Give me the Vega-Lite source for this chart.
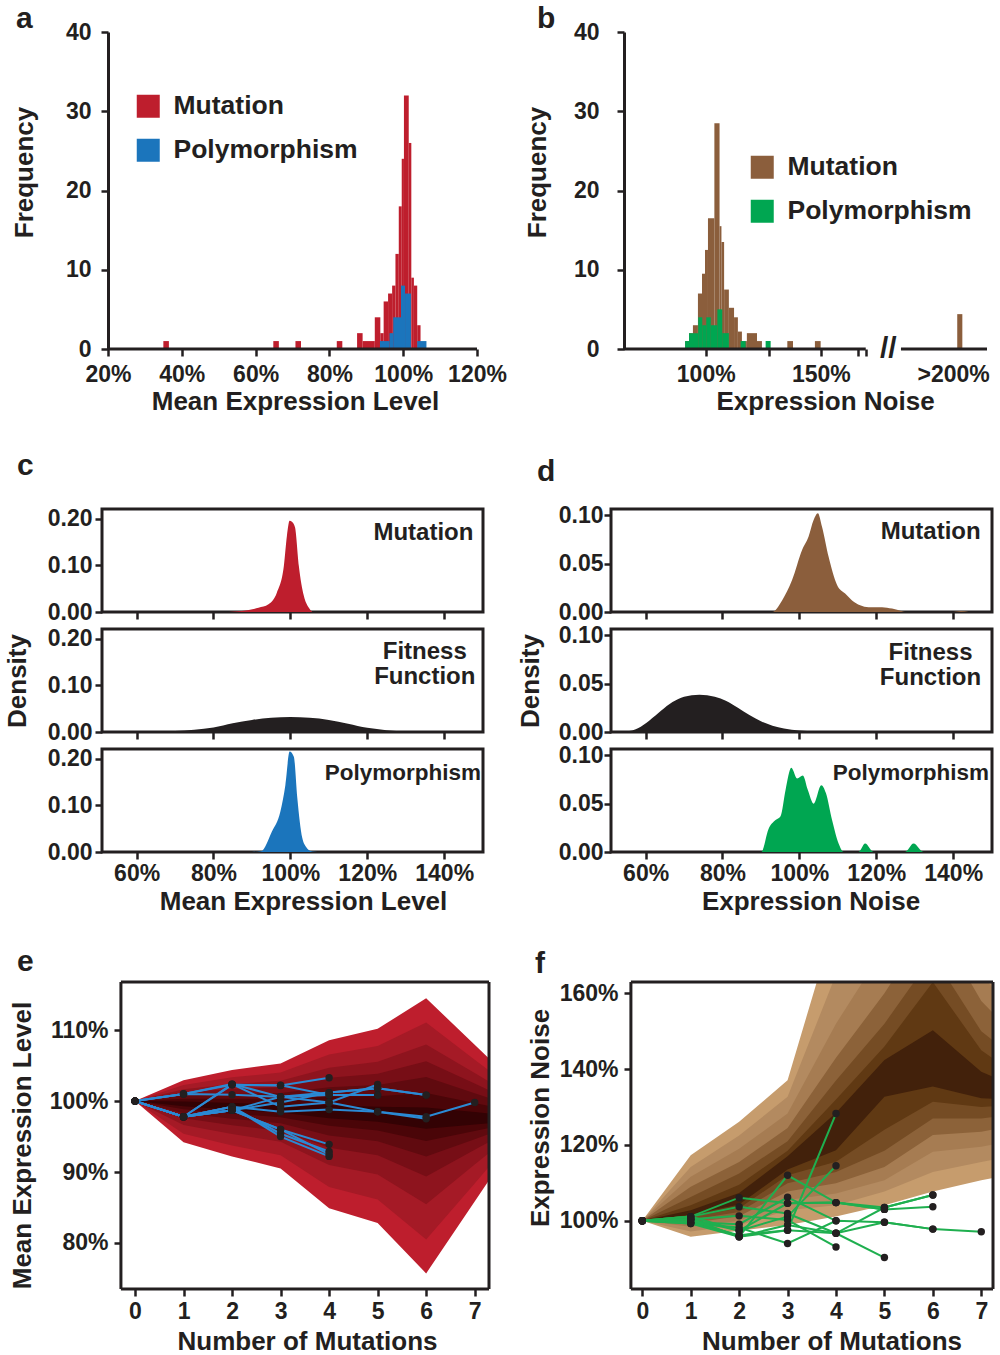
{
"$schema": "https://vega.github.io/schema/vega-lite/v6.json",
"background": "white",
"padding": {"left": 2, "top": 4, "right": 5, "bottom": 5},
"config": {
  "font": "Liberation Sans",
  "axis": {"labelFont": "Liberation Sans", "labelFontSize": 23, "labelFontWeight": "bold", "labelColor": "#231f20", "titleFont": "Liberation Sans", "titleFontSize": 26, "titleFontWeight": "bold", "titleColor": "#231f20", "domainColor": "#231f20", "domainWidth": 3, "tickColor": "#231f20", "tickWidth": 2.5, "tickSize": 7, "grid": false, "labelFlush": false, "labelOverlap": false},
  "title": {"font": "Liberation Sans", "fontSize": 30, "fontWeight": "bold", "color": "#231f20", "anchor": "start", "frame": "group", "baseline": "alphabetic"},
  "legend": {"labelFont": "Liberation Sans", "labelFontSize": 26.5, "labelFontWeight": "bold", "labelColor": "#231f20", "labelLimit": 400, "symbolType": "square", "symbolSize": 529, "symbolStrokeWidth": 0, "symbolOpacity": 1, "labelOffset": 12, "rowPadding": 17},
  "text": {"font": "Liberation Sans", "fontWeight": "bold", "color": "#231f20"},
  "rule": {"color": "#231f20", "strokeWidth": 3}
},
"columns": 2,
"bounds": "flush",
"spacing": {"row": 17, "column": 122},
"resolve": {"scale": {"color": "independent"}, "legend": {"color": "independent"}},
"concat": [
  {"title": {"text": "a", "dx": -86, "offset": -13},
   "width": 375, "height": 317, "view": {"stroke": null},
   "layer": [
    {"data": {"values": [
     {"t":"Mutation","x0":35.0,"x1":36.5,"n":1},
     {"t":"Mutation","x0":64.8,"x1":66.3,"n":1},
     {"t":"Mutation","x0":70.8,"x1":72.3,"n":1},
     {"t":"Mutation","x0":82.0,"x1":83.5,"n":1},
     {"t":"Mutation","x0":87.5,"x1":89.0,"n":2},
     {"t":"Mutation","x0":89.0,"x1":92.3,"n":1},
     {"t":"Mutation","x0":92.3,"x1":93.8,"n":4},
     {"t":"Mutation","x0":93.8,"x1":94.7,"n":2},
     {"t":"Mutation","x0":94.7,"x1":95.9,"n":6},
     {"t":"Mutation","x0":95.9,"x1":97.0,"n":7},
     {"t":"Mutation","x0":97.0,"x1":97.9,"n":8},
     {"t":"Mutation","x0":97.9,"x1":98.8,"n":12},
     {"t":"Mutation","x0":98.8,"x1":99.6,"n":18},
     {"t":"Mutation","x0":99.6,"x1":100.2,"n":24},
     {"t":"Mutation","x0":100.2,"x1":101.5,"n":32},
     {"t":"Mutation","x0":101.5,"x1":102.2,"n":26},
     {"t":"Mutation","x0":102.2,"x1":102.9,"n":9},
     {"t":"Mutation","x0":102.9,"x1":103.8,"n":8},
     {"t":"Mutation","x0":103.8,"x1":104.7,"n":3},
     {"t":"Polymorphism","x0":93.7,"x1":96.3,"n":1},
     {"t":"Polymorphism","x0":96.3,"x1":97.3,"n":2},
     {"t":"Polymorphism","x0":97.3,"x1":99.4,"n":4},
     {"t":"Polymorphism","x0":99.4,"x1":100.5,"n":8},
     {"t":"Polymorphism","x0":100.5,"x1":102.1,"n":7},
     {"t":"Polymorphism","x0":103.8,"x1":106.3,"n":1}
    ]},
    "mark": {"type": "rect"},
    "encoding": {
     "x": {"field": "x0", "type": "quantitative", "scale": {"domain": [18.374, 120], "nice": false}, "axis": {"domain": false, "values": [20,40,60,80,100,120], "labelExpr": "datum.value + '%'", "title": "Mean Expression Level", "labelPadding": 7, "titlePadding": 2, "titleX": 193}},
     "x2": {"field": "x1"},
     "y": {"field": "n", "type": "quantitative", "scale": {"domain": [0, 40], "nice": false}, "axis": {"offset": -6, "values": [0,10,20,30,40], "title": "Frequency", "labelPadding": 10, "titlePadding": 28, "titleY": 140}},
     "y2": {"datum": 0},
     "color": {"field": "t", "type": "nominal", "scale": {"domain": ["Mutation","Polymorphism"], "range": ["#BE1E2D","#1B75BC"]}, "legend": {"orient": "none", "legendX": 33, "legendY": 61, "title": null}}
    }},
    {"data": {"values": [{}]}, "mark": {"type": "rule"}, "encoding": {"x": {"datum": 20}, "x2": {"datum": 120}, "y": {"datum": 0}}}
   ]
  },
  {"title": {"text": "b", "dx": -74, "offset": -13},
   "width": 376, "height": 317, "view": {"stroke": null},
   "layer": [
    {"data": {"values": [
      {"t":"Mutation","x0":93.0,"x1":94.3,"n":1},
      {"t":"Mutation","x0":94.3,"x1":95.6,"n":2},
      {"t":"Mutation","x0":95.6,"x1":97.3,"n":3},
      {"t":"Mutation","x0":97.3,"x1":98.7,"n":7},
      {"t":"Mutation","x0":98.7,"x1":99.75,"n":9.5},
      {"t":"Mutation","x0":99.75,"x1":100.8,"n":12.5},
      {"t":"Mutation","x0":100.8,"x1":103.1,"n":16.5},
      {"t":"Mutation","x0":103.1,"x1":105.0,"n":28.5},
      {"t":"Mutation","x0":105.0,"x1":105.7,"n":15.5},
      {"t":"Mutation","x0":105.7,"x1":106.7,"n":13.5},
      {"t":"Mutation","x0":106.7,"x1":108.5,"n":7.5},
      {"t":"Mutation","x0":108.5,"x1":110.5,"n":5.2},
      {"t":"Mutation","x0":110.5,"x1":112.0,"n":4},
      {"t":"Mutation","x0":112.0,"x1":113.6,"n":2.2},
      {"t":"Mutation","x0":113.6,"x1":115.6,"n":1},
      {"t":"Mutation","x0":115.6,"x1":119.8,"n":2},
      {"t":"Mutation","x0":119.8,"x1":121.9,"n":1},
      {"t":"Mutation","x0":133.3,"x1":136.0,"n":1},
      {"t":"Mutation","x0":146.9,"x1":149.9,"n":1},
      {"t":"Mutation","x0":242.5,"x1":246.9,"n":4.4},
      {"t":"Polymorphism","x0":93.0,"x1":94.3,"n":1},
      {"t":"Polymorphism","x0":94.3,"x1":97.4,"n":2},
      {"t":"Polymorphism","x0":97.4,"x1":98.8,"n":4},
      {"t":"Polymorphism","x0":98.8,"x1":100.2,"n":3},
      {"t":"Polymorphism","x0":100.2,"x1":101.8,"n":4},
      {"t":"Polymorphism","x0":101.8,"x1":104.2,"n":3},
      {"t":"Polymorphism","x0":104.2,"x1":106.0,"n":5},
      {"t":"Polymorphism","x0":106.0,"x1":108.5,"n":2},
      {"t":"Polymorphism","x0":113.1,"x1":115.1,"n":1},
      {"t":"Polymorphism","x0":123.5,"x1":125.7,"n":1}
     ]},
     "mark": {"type": "rect"},
     "encoding": {
      "x": {"field": "x0", "type": "quantitative", "scale": {"type": "log", "domain": [71.64, 269.3], "nice": false}, "axis": {"domain": false, "values": [100,125,150,170.7,175.7,239], "labelExpr": "datum.value == 100 ? '100%' : datum.value == 150 ? '150%' : datum.value == 239 ? '>200%' : ''", "tickOpacity": {"condition": {"test": "datum.value == 239", "value": 0}, "value": 1}, "title": "Expression Noise", "titleX": 214, "labelPadding": 7, "titlePadding": 2}},
      "x2": {"field": "x1"},
      "y": {"field": "n", "type": "quantitative", "scale": {"domain": [0, 40], "nice": false}, "axis": {"offset": -13, "values": [0,10,20,30,40], "title": "Frequency", "labelPadding": 18, "titlePadding": 23, "titleY": 140}},
      "y2": {"datum": 0},
      "color": {"field": "t", "type": "nominal", "scale": {"domain": ["Mutation","Polymorphism"], "range": ["#8B5E3C","#00A651"]}, "legend": {"orient": "none", "legendX": 138, "legendY": 122, "title": null}}
     }
    },
    {"data": {"values": [{}]}, "mark": {"type": "rule"}, "encoding": {"x": {"datum": 75}, "x2": {"datum": 175.7}, "y": {"datum": 0}}},
    {"data": {"values": [{}]}, "mark": {"type": "rule"}, "encoding": {"x": {"datum": 198.9}, "x2": {"datum": 269.3}, "y": {"datum": 0}}},
    {"data": {"values": [{}]}, "mark": {"type": "text", "text": "//", "fontSize": 30, "baseline": "middle", "align": "center"}, "encoding": {"x": {"datum": 190.2}, "y": {"datum": 0}}}
   ]
  },

  {"width": 1, "height": 126, "view": {"stroke": null}, "data": {"values": [{}]}, "mark": {"type": "text", "text": ""}, "encoding": {}},
  {"width": 1, "height": 126, "view": {"stroke": null}, "data": {"values": [{}]}, "mark": {"type": "text", "text": ""}, "encoding": {}},

  {"title": {"text": "c", "dx": -85, "offset": 27},
   "width": 381, "height": 103, "view": {"stroke": "#231f20", "strokeWidth": 3},
   "layer": [
    {"data": {"values": [{"x":84,"y":0},{"x":87.3,"y":0.002},{"x":91.7,"y":0.009},{"x":94.3,"y":0.0165},{"x":96.5,"y":0.042},{"x":98.3,"y":0.099},{"x":99.1,"y":0.164},{"x":99.8,"y":0.196},{"x":100.4,"y":0.194},{"x":101.2,"y":0.182},{"x":102.2,"y":0.099},{"x":103.5,"y":0.035},{"x":104.8,"y":0.009},{"x":105.7,"y":0}]},
     "mark": {"type": "area", "color": "#BE1E2D", "interpolate": "monotone"},
     "encoding": {
      "x": {"field": "x", "type": "quantitative", "scale": {"domain": [51, 150.1], "nice": false}, "axis": {"values": [60,80,100,120,140], "domain": false, "labels": false, "title": null}},
      "y": {"field": "y", "type": "quantitative", "scale": {"domain": [0, 0.2215], "nice": false}, "axis": {"values": [0,0.1,0.2], "format": ".2f", "domain": false, "title": null, "labelPadding": 3}}
     }},
    {"data": {"values": [{}]}, "mark": {"type": "text", "text": "Mutation", "align": "right", "fontSize": 24}, "encoding": {"x": {"datum": 147.6}, "y": {"datum": 0.170}}}
   ]},
  {"title": {"text": "d", "dx": -74, "offset": 17},
   "width": 381, "height": 103, "view": {"stroke": "#231f20", "strokeWidth": 3},
   "layer": [
    {"data": {"values": [{"x":90,"y":0},{"x":92.9,"y":0},{"x":95.5,"y":0.012},{"x":98.1,"y":0.033},{"x":100.7,"y":0.064},{"x":102.4,"y":0.078},{"x":103.7,"y":0.095},{"x":104.8,"y":0.102},{"x":105.9,"y":0.088},{"x":107.6,"y":0.057},{"x":109.8,"y":0.028},{"x":111.9,"y":0.019},{"x":113.7,"y":0.012},{"x":115.8,"y":0.007},{"x":118,"y":0.005},{"x":121.5,"y":0.005},{"x":124.1,"y":0.0035},{"x":126.7,"y":0.0007},{"x":127.5,"y":0},{"x":140,"y":0},{"x":142,"y":0.001},{"x":144,"y":0}]},
     "mark": {"type": "area", "color": "#8B5E3C", "interpolate": "monotone"},
     "encoding": {
      "x": {"field": "x", "type": "quantitative", "scale": {"domain": [51, 150.1], "nice": false}, "axis": {"values": [60,80,100,120,140], "domain": false, "labels": false, "title": null}},
      "y": {"field": "y", "type": "quantitative", "scale": {"domain": [0, 0.1065], "nice": false}, "axis": {"values": [0,0.05,0.1], "format": ".2f", "domain": false, "title": null, "labelPadding": 1}}
     }},
    {"data": {"values": [{}]}, "mark": {"type": "text", "text": "Mutation", "align": "right", "fontSize": 24}, "encoding": {"x": {"datum": 147.15}, "y": {"datum": 0.0824}}}
   ]},

  {"width": 381, "height": 103, "view": {"stroke": "#231f20", "strokeWidth": 3},
   "layer": [
    {"data": {"values": [{"x":55,"y":0.0001},{"x":60,"y":0.0003},{"x":65,"y":0.0009},{"x":70,"y":0.0022},{"x":75,"y":0.005},{"x":80,"y":0.0098},{"x":85,"y":0.019},{"x":90,"y":0.026},{"x":95,"y":0.0305},{"x":100,"y":0.032},{"x":105,"y":0.0305},{"x":110,"y":0.026},{"x":115,"y":0.018},{"x":120,"y":0.009},{"x":125,"y":0.004},{"x":130,"y":0.0015},{"x":135,"y":0.0005},{"x":140,"y":0.0001}]},
     "mark": {"type": "area", "color": "#231F20", "interpolate": "monotone"},
     "encoding": {
      "x": {"field": "x", "type": "quantitative", "scale": {"domain": [51, 150.1], "nice": false}, "axis": {"values": [60,80,100,120,140], "domain": false, "labels": false, "title": null}},
      "y": {"field": "y", "type": "quantitative", "scale": {"domain": [0, 0.2215], "nice": false}, "axis": {"values": [0,0.1,0.2], "format": ".2f", "domain": false, "title": "Density", "labelPadding": 3, "titlePadding": 17}}
     }},
    {"data": {"values": [{}]}, "mark": {"type": "text", "text": "Fitness\nFunction", "lineBreak": "\n", "lineHeight": 25, "align": "center", "fontSize": 24}, "encoding": {"x": {"datum": 134.96}, "y": {"datum": 0.171}}}
   ]},
  {"width": 381, "height": 103, "view": {"stroke": "#231f20", "strokeWidth": 3},
   "layer": [
    {"data": {"values": [{"x":52,"y":0},{"x":55,"y":0.0006},{"x":58,"y":0.004},{"x":61,"y":0.012},{"x":64,"y":0.022},{"x":67,"y":0.031},{"x":70,"y":0.0365},{"x":74,"y":0.0386},{"x":78,"y":0.0365},{"x":81,"y":0.032},{"x":84,"y":0.025},{"x":87,"y":0.0175},{"x":90,"y":0.011},{"x":93,"y":0.0065},{"x":96,"y":0.0035},{"x":100,"y":0.0015},{"x":104,"y":0.0005},{"x":108,"y":0}]},
     "mark": {"type": "area", "color": "#231F20", "interpolate": "monotone"},
     "encoding": {
      "x": {"field": "x", "type": "quantitative", "scale": {"domain": [51, 150.1], "nice": false}, "axis": {"values": [60,80,100,120,140], "domain": false, "labels": false, "title": null}},
      "y": {"field": "y", "type": "quantitative", "scale": {"domain": [0, 0.1065], "nice": false}, "axis": {"values": [0,0.05,0.1], "format": ".2f", "domain": false, "title": "Density", "labelPadding": 1, "titlePadding": 15}}
     }},
    {"data": {"values": [{}]}, "mark": {"type": "text", "text": "Fitness\nFunction", "lineBreak": "\n", "lineHeight": 25, "align": "center", "fontSize": 24}, "encoding": {"x": {"datum": 134.1}, "y": {"datum": 0.0818}}}
   ]},

  {"width": 381, "height": 103, "view": {"stroke": "#231f20", "strokeWidth": 3},
   "layer": [
    {"data": {"values": [{"x":90,"y":0},{"x":92.4,"y":0.0014},{"x":95.2,"y":0.044},{"x":97.4,"y":0.087},{"x":98.7,"y":0.144},{"x":99.8,"y":0.216},{"x":100.9,"y":0.205},{"x":101.8,"y":0.116},{"x":103.1,"y":0.03},{"x":104.0,"y":0.012},{"x":105.7,"y":0.001},{"x":107,"y":0}]},
     "mark": {"type": "area", "color": "#1B75BC", "interpolate": "monotone"},
     "encoding": {
      "x": {"field": "x", "type": "quantitative", "scale": {"domain": [51, 150.1], "nice": false}, "axis": {"values": [60,80,100,120,140], "domain": false, "labelExpr": "datum.value + '%'", "title": "Mean Expression Level", "labelPadding": 3, "titlePadding": 3, "titleX": 201}},
      "y": {"field": "y", "type": "quantitative", "scale": {"domain": [0, 0.2215], "nice": false}, "axis": {"values": [0,0.1,0.2], "format": ".2f", "domain": false, "title": null, "labelPadding": 3}}
     }},
    {"data": {"values": [{}]}, "mark": {"type": "text", "text": "Polymorphism", "align": "right", "fontSize": 22.5}, "encoding": {"x": {"datum": 149.6}, "y": {"datum": 0.169}}}
   ]},
  {"width": 381, "height": 103, "view": {"stroke": "#231f20", "strokeWidth": 3},
   "layer": [
    {"data": {"values": [{"x":88,"y":0},{"x":90.1,"y":0},{"x":92.0,"y":0.024},{"x":93.8,"y":0.033},{"x":95.1,"y":0.037},{"x":96.4,"y":0.064},{"x":97.9,"y":0.087},{"x":99.4,"y":0.076},{"x":100.9,"y":0.079},{"x":102.2,"y":0.064},{"x":103.7,"y":0.05},{"x":105.7,"y":0.069},{"x":106.9,"y":0.061},{"x":108.5,"y":0.033},{"x":110.2,"y":0.0087},{"x":111.5,"y":0},{"x":115.4,"y":0},{"x":117.1,"y":0.0087},{"x":119.3,"y":0},{"x":127.5,"y":0},{"x":129.7,"y":0.0087},{"x":132.3,"y":0},{"x":140,"y":0}]},
     "mark": {"type": "area", "color": "#00A651", "interpolate": "monotone"},
     "encoding": {
      "x": {"field": "x", "type": "quantitative", "scale": {"domain": [51, 150.1], "nice": false}, "axis": {"values": [60,80,100,120,140], "domain": false, "labelExpr": "datum.value + '%'", "title": "Expression Noise", "labelPadding": 3, "titlePadding": 3, "titleX": 199.5}},
      "y": {"field": "y", "type": "quantitative", "scale": {"domain": [0, 0.1065], "nice": false}, "axis": {"values": [0,0.05,0.1], "format": ".2f", "domain": false, "title": null, "labelPadding": 1}}
     }},
    {"data": {"values": [{}]}, "mark": {"type": "text", "text": "Polymorphism", "align": "right", "fontSize": 22.5}, "encoding": {"x": {"datum": 149.3}, "y": {"datum": 0.082}}}
   ]},

  {"width": 1, "height": 96, "view": {"stroke": null}, "data": {"values": [{}]}, "mark": {"type": "text", "text": ""}, "encoding": {}},
  {"width": 1, "height": 96, "view": {"stroke": null}, "data": {"values": [{}]}, "mark": {"type": "text", "text": ""}, "encoding": {}},

  {"title": {"text": "e", "dx": -85, "offset": 4},
   "width": 387, "height": 307, "view": {"stroke": null},
   "layer": [
    {"data": {"values": [
      {"s":0,"k":1,"v":100,"v2":100},{"s":1,"k":1,"v":94.2,"v2":102.96},{"s":2,"k":1,"v":92.2,"v2":104.4},{"s":3,"k":1,"v":90.5,"v2":105.3},{"s":4,"k":1,"v":84.9,"v2":108.6},{"s":5,"k":1,"v":82.8,"v2":110.2},{"s":6,"k":1,"v":75.7,"v2":114.5},{"s":7,"k":1,"v":85.85,"v2":107.96},{"s":8,"k":1,"v":96.0,"v2":101.4},
      {"s":0,"k":2,"v":100,"v2":100},{"s":1,"k":2,"v":95.39,"v2":102.29},{"s":2,"k":2,"v":93.74,"v2":103.36},{"s":3,"k":2,"v":92.35,"v2":104.02},{"s":4,"k":2,"v":87.87,"v2":106.56},{"s":5,"k":2,"v":86.14,"v2":107.76},{"s":6,"k":2,"v":80.47,"v2":111.08},{"s":7,"k":2,"v":88.39,"v2":105.85},{"s":8,"k":2,"v":96.31,"v2":100.6},
      {"s":0,"k":3,"v":100,"v2":100},{"s":1,"k":3,"v":96.63,"v2":101.68},{"s":2,"k":3,"v":95.35,"v2":102.42},{"s":3,"k":3,"v":94.28,"v2":102.87},{"s":4,"k":3,"v":90.98,"v2":104.72},{"s":5,"k":3,"v":89.64,"v2":105.56},{"s":6,"k":3,"v":85.47,"v2":108.0},{"s":7,"k":3,"v":91.05,"v2":103.95},{"s":8,"k":3,"v":96.63,"v2":99.88},
      {"s":0,"k":4,"v":100,"v2":100},{"s":1,"k":4,"v":97.6,"v2":101.21},{"s":2,"k":4,"v":96.61,"v2":101.7},{"s":3,"k":4,"v":95.79,"v2":101.97},{"s":4,"k":4,"v":93.41,"v2":103.3},{"s":5,"k":4,"v":92.38,"v2":103.86},{"s":6,"k":4,"v":89.37,"v2":105.61},{"s":7,"k":4,"v":93.13,"v2":102.47},{"s":8,"k":4,"v":96.88,"v2":99.32},
      {"s":0,"k":5,"v":100,"v2":100},{"s":1,"k":5,"v":98.3,"v2":100.78},{"s":2,"k":5,"v":97.52,"v2":101.02},{"s":3,"k":5,"v":96.88,"v2":101.14},{"s":4,"k":5,"v":95.16,"v2":101.97},{"s":5,"k":5,"v":94.35,"v2":102.27},{"s":6,"k":5,"v":92.19,"v2":103.39},{"s":7,"k":5,"v":94.63,"v2":101.1},{"s":8,"k":5,"v":97.06,"v2":98.8},
      {"s":0,"k":6,"v":100,"v2":100},{"s":1,"k":6,"v":98.84,"v2":100.34},{"s":2,"k":6,"v":98.22,"v2":100.34},{"s":3,"k":6,"v":97.72,"v2":100.31},{"s":4,"k":6,"v":96.51,"v2":100.64},{"s":5,"k":6,"v":95.87,"v2":100.68},{"s":6,"k":6,"v":94.36,"v2":101.16},{"s":7,"k":6,"v":95.78,"v2":99.72},{"s":8,"k":6,"v":97.2,"v2":98.28},
      {"s":0,"k":7,"v":100,"v2":100},{"s":1,"k":7,"v":99.28,"v2":99.94},{"s":2,"k":7,"v":98.78,"v2":99.72},{"s":3,"k":7,"v":98.4,"v2":99.54},{"s":4,"k":7,"v":97.59,"v2":99.42},{"s":5,"k":7,"v":97.09,"v2":99.22},{"s":6,"k":7,"v":96.1,"v2":99.11},{"s":7,"k":7,"v":96.71,"v2":98.46},{"s":8,"k":7,"v":97.32,"v2":97.8}
     ]},
     "mark": {"type": "area", "clip": true},
     "encoding": {
      "x": {"field": "s", "type": "quantitative", "scale": {"domain": [-0.68, 7.295], "nice": false}, "axis": {"values": [0,1,2,3,4,5,6,7], "domain": false, "title": "Number of Mutations", "labelPadding": 4, "titlePadding": 5, "titleX": 205}},
      "y": {"field": "v", "type": "quantitative", "scale": {"domain": [73.5, 116.8], "nice": false}, "axis": {"offset": -19, "values": [80,90,100,110], "labelExpr": "datum.value + '%'", "domain": false, "title": "Mean Expression Level", "labelPadding": 6, "titlePadding": 14, "titleY": 163}},
      "y2": {"field": "v2"},
      "color": {"field": "k", "type": "ordinal", "scale": {"domain": [1,2,3,4,5,6,7], "range": ["#BE1E2D","#A51A26","#8E141E","#770E16","#600A0F","#4A0508","#330204"]}, "legend": null}
     }},
    {"data": {"name": "elines", "values": [
      {"p":1,"s":0,"v":100},{"p":1,"s":1,"v":101.0},{"p":1,"s":2,"v":102.3},{"p":1,"s":3,"v":102.2},{"p":1,"s":4,"v":103.3},
      {"p":2,"s":0,"v":100},{"p":2,"s":1,"v":101.0},{"p":2,"s":2,"v":100.9},{"p":2,"s":3,"v":100.6},{"p":2,"s":4,"v":101.2},{"p":2,"s":5,"v":101.8},{"p":2,"s":6,"v":100.85},
      {"p":3,"s":0,"v":100},{"p":3,"s":1,"v":97.8},{"p":3,"s":2,"v":102.4},{"p":3,"s":3,"v":99.2},{"p":3,"s":4,"v":99.8},{"p":3,"s":5,"v":102.35},
      {"p":4,"s":0,"v":100},{"p":4,"s":1,"v":97.8},{"p":4,"s":2,"v":99.2},{"p":4,"s":3,"v":98.5},{"p":4,"s":4,"v":98.8},{"p":4,"s":5,"v":98.5},{"p":4,"s":6,"v":97.8},{"p":4,"s":7,"v":99.8},
      {"p":5,"s":0,"v":100},{"p":5,"s":1,"v":97.8},{"p":5,"s":2,"v":98.7},{"p":5,"s":3,"v":96.0},{"p":5,"s":4,"v":93.9},
      {"p":6,"s":0,"v":100},{"p":6,"s":1,"v":97.8},{"p":6,"s":2,"v":99.2},{"p":6,"s":3,"v":95.4},{"p":6,"s":4,"v":92.9},
      {"p":7,"s":0,"v":100},{"p":7,"s":1,"v":97.8},{"p":7,"s":2,"v":98.7},{"p":7,"s":3,"v":100.6},{"p":7,"s":4,"v":100.85},{"p":7,"s":5,"v":100.85},
      {"p":8,"s":0,"v":100},{"p":8,"s":1,"v":97.8},{"p":8,"s":2,"v":99.2},{"p":8,"s":3,"v":95.0},{"p":8,"s":4,"v":92.2},
      {"p":9,"s":0,"v":100},{"p":9,"s":1,"v":97.8},{"p":9,"s":2,"v":98.7},{"p":9,"s":3,"v":99.8},{"p":9,"s":4,"v":101.2},{"p":9,"s":5,"v":101.8},{"p":9,"s":6,"v":100.85},
      {"p":10,"s":0,"v":100},{"p":10,"s":1,"v":97.8},{"p":10,"s":2,"v":102.3},{"p":10,"s":3,"v":102.25},{"p":10,"s":4,"v":100.85},{"p":10,"s":5,"v":100.85},
      {"p":11,"s":0,"v":100},{"p":11,"s":1,"v":97.8},{"p":11,"s":2,"v":98.7},{"p":11,"s":3,"v":96.0},{"p":11,"s":4,"v":92.5},
      {"p":12,"s":0,"v":100},{"p":12,"s":1,"v":101.0},{"p":12,"s":2,"v":102.4},{"p":12,"s":3,"v":100.6},{"p":12,"s":4,"v":99.8},{"p":12,"s":5,"v":98.5},{"p":12,"s":6,"v":97.5}
     ]},
     "mark": {"type": "line", "color": "#2B8AD4", "strokeWidth": 2, "clip": true},
     "encoding": {"x": {"field": "s", "type": "quantitative"}, "y": {"field": "v", "type": "quantitative"}, "detail": {"field": "p"}}},
    {"data": {"name": "elines"},
     "mark": {"type": "circle", "color": "#231F20", "size": 55, "opacity": 1, "clip": true},
     "encoding": {"x": {"field": "s", "type": "quantitative"}, "y": {"field": "v", "type": "quantitative"}}},
    {"data": {"values": [{}]}, "mark": {"type": "rule"}, "encoding": {"x": {"datum": -0.29}, "y": {"datum": 73.5}, "y2": {"datum": 116.8}}},
    {"data": {"values": [{}]}, "mark": {"type": "rule"}, "encoding": {"x": {"datum": 7.295}, "y": {"datum": 73.5}, "y2": {"datum": 116.8}}},
    {"data": {"values": [{}]}, "mark": {"type": "rule"}, "encoding": {"x": {"datum": -0.29}, "x2": {"datum": 7.295}, "y": {"datum": 116.8}}},
    {"data": {"values": [{}]}, "mark": {"type": "rule"}, "encoding": {"x": {"datum": -0.29}, "x2": {"datum": 7.295}, "y": {"datum": 73.5}}}
   ]
  },
  {"title": {"text": "f", "dx": -76, "offset": 2},
   "width": 382, "height": 307, "view": {"stroke": null},
   "layer": [
    {"data": {"values": [
      {"s":0,"k":1,"v":100,"v2":100},{"s":1,"k":1,"v":95.8,"v2":117.3},{"s":2,"k":1,"v":97.4,"v2":126.1},{"s":3,"k":1,"v":98.9,"v2":137.1},{"s":4,"k":1,"v":101.1,"v2":180},{"s":5,"k":1,"v":104.1,"v2":200},{"s":6,"k":1,"v":107.7,"v2":215},{"s":7,"k":1,"v":110.7,"v2":185},{"s":8,"k":1,"v":113,"v2":170},
      {"s":0,"k":2,"v":100,"v2":100},{"s":1,"k":2,"v":97.2,"v2":114.2},{"s":2,"k":2,"v":98.8,"v2":122.5},{"s":3,"k":2,"v":102.8,"v2":132.7},{"s":4,"k":2,"v":104.1,"v2":165},{"s":5,"k":2,"v":107.7,"v2":185},{"s":6,"k":2,"v":112.9,"v2":200},{"s":7,"k":2,"v":115.5,"v2":175},{"s":8,"k":2,"v":118,"v2":160},
      {"s":0,"k":3,"v":100,"v2":100},{"s":1,"k":3,"v":98.4,"v2":111.6},{"s":2,"k":3,"v":100.0,"v2":119.0},{"s":3,"k":3,"v":105.5,"v2":128.3},{"s":4,"k":3,"v":107.2,"v2":152},{"s":5,"k":3,"v":110.7,"v2":172},{"s":6,"k":3,"v":118.2,"v2":190},{"s":7,"k":3,"v":119.5,"v2":165},{"s":8,"k":3,"v":122,"v2":150},
      {"s":0,"k":4,"v":100,"v2":100},{"s":1,"k":4,"v":99.4,"v2":109.0},{"s":2,"k":4,"v":101.2,"v2":115.5},{"s":3,"k":4,"v":107.7,"v2":124.5},{"s":4,"k":4,"v":109.9,"v2":143},{"s":5,"k":4,"v":114.2,"v2":160},{"s":6,"k":4,"v":122.6,"v2":180},{"s":7,"k":4,"v":123.5,"v2":158},{"s":8,"k":4,"v":126,"v2":145},
      {"s":0,"k":5,"v":100,"v2":100},{"s":1,"k":5,"v":100.3,"v2":106.3},{"s":2,"k":5,"v":102.3,"v2":112.5},{"s":3,"k":5,"v":109.9,"v2":121.0},{"s":4,"k":5,"v":112.9,"v2":137},{"s":5,"k":5,"v":118.5,"v2":152},{"s":6,"k":5,"v":127.0,"v2":170},{"s":7,"k":5,"v":127.0,"v2":150},{"s":8,"k":5,"v":128.5,"v2":140},
      {"s":0,"k":6,"v":100,"v2":100},{"s":1,"k":6,"v":101.0,"v2":104.1},{"s":2,"k":6,"v":103.3,"v2":109.5},{"s":3,"k":6,"v":112.0,"v2":118.5},{"s":4,"k":6,"v":115.6,"v2":132},{"s":5,"k":6,"v":124.0,"v2":146},{"s":6,"k":6,"v":131.4,"v2":163},{"s":7,"k":6,"v":130.0,"v2":145},{"s":8,"k":6,"v":131,"v2":136},
      {"s":0,"k":7,"v":100,"v2":100},{"s":1,"k":7,"v":101.6,"v2":102.8},{"s":2,"k":7,"v":104.3,"v2":107.3},{"s":3,"k":7,"v":113.5,"v2":117.0},{"s":4,"k":7,"v":118.6,"v2":128.5},{"s":5,"k":7,"v":132.7,"v2":142.4},{"s":6,"k":7,"v":135.4,"v2":150.3},{"s":7,"k":7,"v":132.3,"v2":139.3},{"s":8,"k":7,"v":132,"v2":134}
     ]},
     "mark": {"type": "area", "clip": true},
     "encoding": {
      "x": {"field": "s", "type": "quantitative", "scale": {"domain": [-0.646, 7.242], "nice": false}, "axis": {"values": [0,1,2,3,4,5,6,7], "domain": false, "title": "Number of Mutations", "labelPadding": 4, "titlePadding": 5, "titleX": 220.5}},
      "y": {"field": "v", "type": "quantitative", "scale": {"domain": [82, 163], "nice": false}, "axis": {"offset": -20, "values": [100,120,140,160], "labelExpr": "datum.value + '%'", "domain": false, "title": "Expression Noise", "labelPadding": 6, "titlePadding": 6, "titleY": 135.5}},
      "y2": {"field": "v2"},
      "color": {"field": "k", "type": "ordinal", "scale": {"domain": [1,2,3,4,5,6,7], "range": ["#C69C6D","#B38A60","#A67C52","#8C6239","#754C24","#603913","#42210B"]}, "legend": null}
     }},
    {"data": {"name": "flines", "values": [
      {"p":1,"s":0,"v":100},{"p":1,"s":1,"v":101.1},{"p":1,"s":2,"v":106.1},{"p":1,"s":3,"v":104.6},{"p":1,"s":4,"v":104.8},{"p":1,"s":5,"v":103.5},{"p":1,"s":6,"v":106.8},
      {"p":2,"s":0,"v":100},{"p":2,"s":1,"v":100.4},{"p":2,"s":2,"v":95.8},{"p":2,"s":3,"v":112.0},{"p":2,"s":4,"v":104.8},{"p":2,"s":5,"v":103.0},{"p":2,"s":6,"v":103.7},
      {"p":3,"s":0,"v":100},{"p":3,"s":1,"v":99.6},{"p":3,"s":2,"v":96.2},{"p":3,"s":3,"v":97.5},{"p":3,"s":4,"v":128.3},
      {"p":4,"s":0,"v":100},{"p":4,"s":1,"v":100.4},{"p":4,"s":2,"v":97.4},{"p":4,"s":3,"v":101.1},{"p":4,"s":4,"v":114.5},
      {"p":5,"s":0,"v":100},{"p":5,"s":1,"v":99.3},{"p":5,"s":2,"v":98.2},{"p":5,"s":3,"v":94.0},{"p":5,"s":4,"v":100.0},{"p":5,"s":5,"v":99.6},{"p":5,"s":6,"v":97.8},{"p":5,"s":7,"v":97.1},
      {"p":6,"s":0,"v":100},{"p":6,"s":1,"v":101.1},{"p":6,"s":2,"v":103.7},{"p":6,"s":3,"v":101.9},{"p":6,"s":4,"v":96.7},{"p":6,"s":5,"v":90.3},
      {"p":7,"s":0,"v":100},{"p":7,"s":1,"v":99.6},{"p":7,"s":2,"v":99.1},{"p":7,"s":3,"v":106.2},{"p":7,"s":4,"v":100.0},
      {"p":8,"s":0,"v":100},{"p":8,"s":1,"v":100.4},{"p":8,"s":2,"v":101.3},{"p":8,"s":3,"v":100.2},{"p":8,"s":4,"v":93.1},
      {"p":9,"s":0,"v":100},{"p":9,"s":1,"v":99.3},{"p":9,"s":2,"v":95.8},{"p":9,"s":3,"v":98.9},{"p":9,"s":4,"v":96.7},{"p":9,"s":5,"v":103.5},{"p":9,"s":6,"v":106.8},
      {"p":10,"s":0,"v":100},{"p":10,"s":1,"v":101.1},{"p":10,"s":2,"v":97.4},{"p":10,"s":3,"v":104.6},{"p":10,"s":4,"v":104.8},{"p":10,"s":5,"v":103.0},
      {"p":11,"s":0,"v":100},{"p":11,"s":1,"v":100.4},{"p":11,"s":2,"v":95.8},{"p":11,"s":3,"v":97.5},{"p":11,"s":4,"v":96.7},{"p":11,"s":5,"v":99.6},{"p":11,"s":6,"v":97.8}
     ]},
     "mark": {"type": "line", "color": "#1FAF4F", "strokeWidth": 2, "clip": true},
     "encoding": {"x": {"field": "s", "type": "quantitative"}, "y": {"field": "v", "type": "quantitative"}, "detail": {"field": "p"}}},
    {"data": {"name": "flines"},
     "mark": {"type": "circle", "color": "#231F20", "size": 55, "opacity": 1, "clip": true},
     "encoding": {"x": {"field": "s", "type": "quantitative"}, "y": {"field": "v", "type": "quantitative"}}},
    {"data": {"values": [{}]}, "mark": {"type": "rule"}, "encoding": {"x": {"datum": -0.235}, "y": {"datum": 82}, "y2": {"datum": 163}}},
    {"data": {"values": [{}]}, "mark": {"type": "rule"}, "encoding": {"x": {"datum": 7.242}, "y": {"datum": 82}, "y2": {"datum": 163}}},
    {"data": {"values": [{}]}, "mark": {"type": "rule"}, "encoding": {"x": {"datum": -0.235}, "x2": {"datum": 7.242}, "y": {"datum": 163}}},
    {"data": {"values": [{}]}, "mark": {"type": "rule"}, "encoding": {"x": {"datum": -0.235}, "x2": {"datum": 7.242}, "y": {"datum": 82}}}
   ]
  }
]
}
